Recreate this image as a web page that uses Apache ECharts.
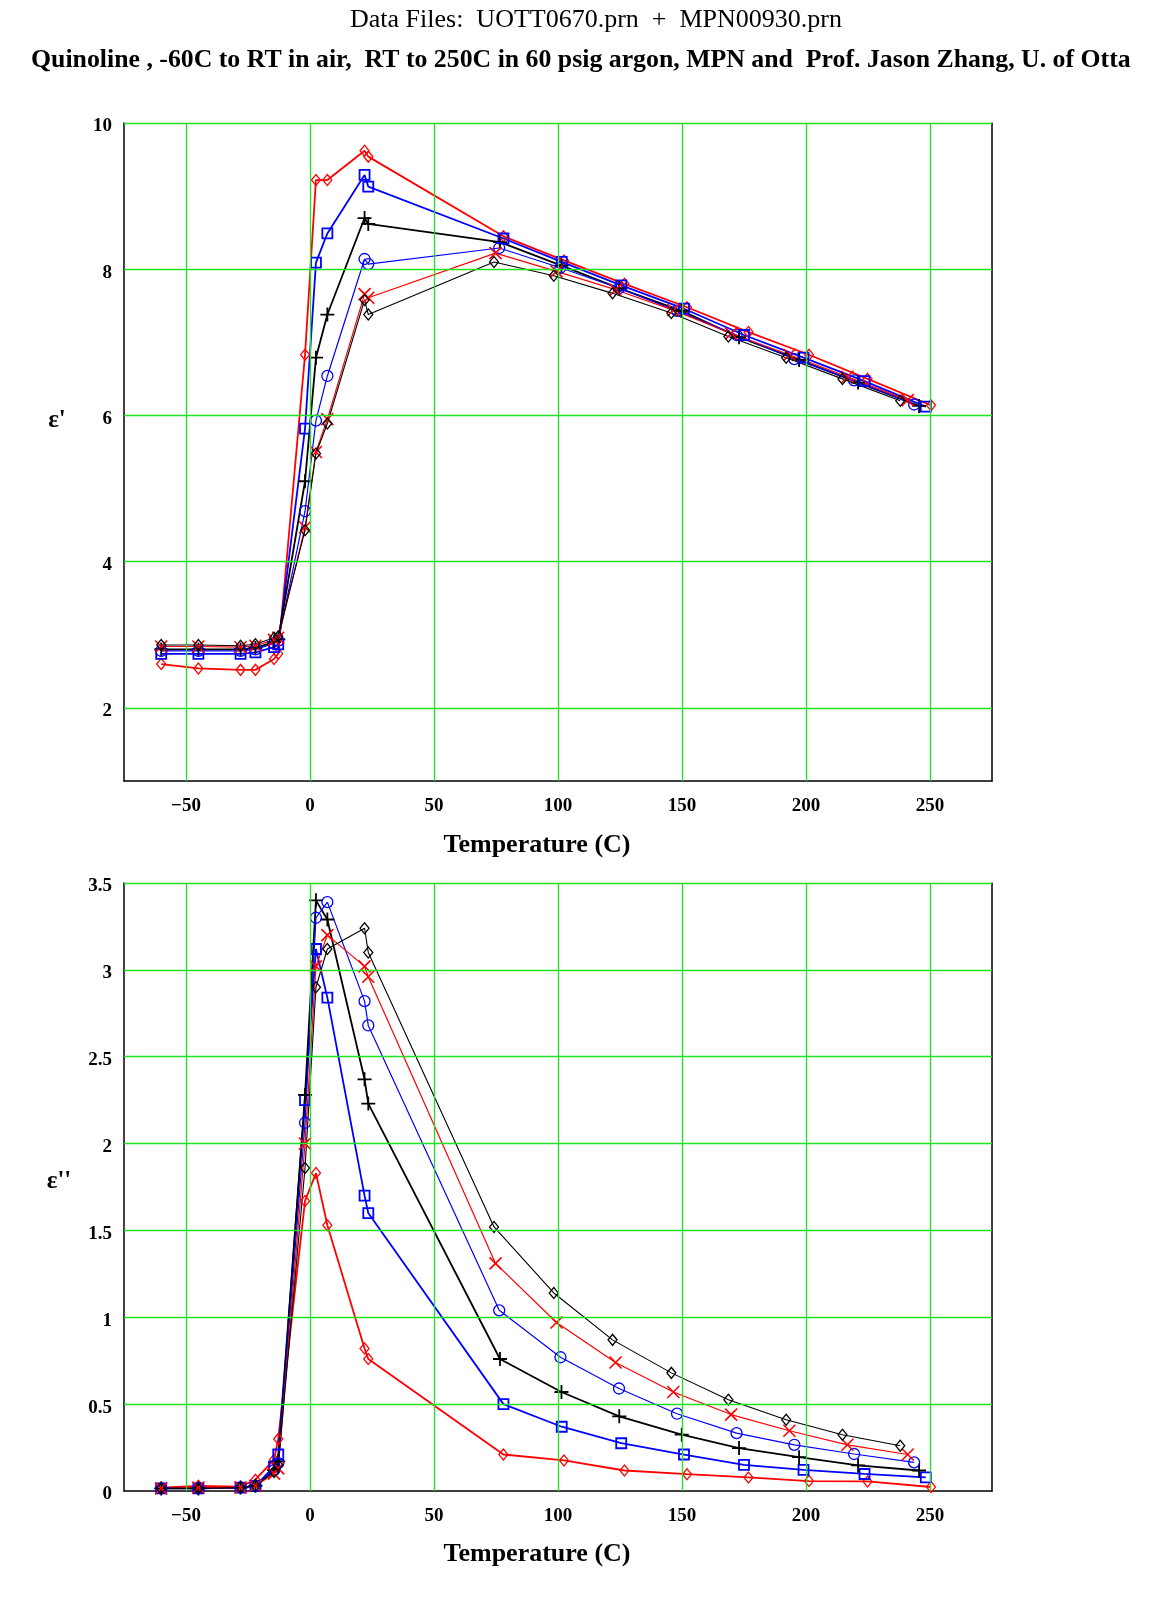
<!DOCTYPE html>
<html>
<head>
<meta charset="utf-8">
<script src="https://cdn.jsdelivr.net/npm/echarts@6/dist/echarts.min.js"></script>
<style>
html,body{margin:0;padding:0;background:#fff;}
#chart{width:1149px;height:1606px;}
</style>
</head>
<body>
<div id="chart"></div>
<script>
// ---- Data (temperature in C) ----
const tempRedDiamond   = [-60,-45,-28,-22,-14.5,-12.8,-2,2.4,7,22,23.5,78,102.4,126.8,152,176.8,201.2,224.8,250.4];
const tempBlueSquare   = [-60,-45,-28,-22,-14.5,-12.8,-2,2.4,7,22,23.5,78,101.5,125.5,150.8,175,199,223.6,248.3];
const tempBlackPlus    = [-60,-45,-28,-22,-14.5,-12.8,-2,2.4,7,22,23.5,76.6,101.4,124.7,149.9,173,197.2,221,245.6];
const tempBlueCircle   = [-60,-45,-28,-22,-14.5,-12.8,-2,2.4,7,22,23.5,76.3,101,124.6,148,172,195.3,219.4,243.6];
const tempRedX         = [-60,-45,-28,-22,-14.5,-12.8,-2,2.4,7,22,23.5,74.8,99.4,123.2,146.5,169.8,193.3,216.7,241];
const tempBlackDiamond = [-60,-45,-28,-22,-14.5,-12.8,-2,2.4,7,22,23.5,74.2,98.3,122,145.7,168.7,192,214.7,238];

// ε' (real permittivity)
const epsRedDiamond   = [2.60,2.54,2.52,2.52,2.67,2.74,6.83,9.22,9.22,9.62,9.54,8.45,8.12,7.80,7.48,7.14,6.83,6.50,6.14];
const epsBlueSquare   = [2.74,2.74,2.74,2.76,2.83,2.87,5.82,8.09,8.49,9.29,9.13,8.42,8.10,7.78,7.46,7.10,6.79,6.47,6.12];
const epsBlackPlus    = [2.80,2.80,2.80,2.82,2.90,2.94,5.10,6.79,7.38,8.70,8.62,8.37,8.05,7.74,7.43,7.07,6.76,6.45,6.13];
const epsBlueCircle   = [2.78,2.78,2.78,2.80,2.88,2.92,4.69,5.93,6.54,8.14,8.07,8.29,8.02,7.74,7.43,7.10,6.77,6.48,6.15];
const epsRedX         = [2.84,2.84,2.83,2.85,2.93,2.96,4.47,5.50,5.95,7.66,7.61,8.22,7.97,7.72,7.44,7.12,6.83,6.53,6.21];
const epsBlackDiamond = [2.86,2.86,2.85,2.87,2.96,2.98,4.43,5.48,5.89,7.58,7.38,8.10,7.91,7.67,7.40,7.08,6.79,6.50,6.20];

// ε'' (loss)
const lossRedDiamond   = [0.02,0.03,0.025,0.065,0.18,0.30,1.67,1.83,1.53,0.82,0.76,0.21,0.176,0.118,0.097,0.078,0.057,0.055,0.023];
const lossBlueSquare   = [0.015,0.015,0.02,0.03,0.14,0.21,2.25,3.12,2.84,1.70,1.60,0.50,0.37,0.275,0.21,0.15,0.122,0.098,0.078];
const lossBlackPlus    = [0.015,0.015,0.02,0.03,0.12,0.17,2.28,3.40,3.29,2.37,2.23,0.76,0.57,0.43,0.324,0.247,0.195,0.147,0.118];
const lossBlueCircle   = [0.015,0.015,0.02,0.03,0.12,0.16,2.12,3.30,3.39,2.82,2.68,1.04,0.77,0.59,0.445,0.333,0.266,0.213,0.165];
const lossRedX         = [0.015,0.02,0.02,0.03,0.10,0.13,2.00,3.02,3.20,3.02,2.96,1.31,0.97,0.74,0.57,0.44,0.347,0.266,0.21];
const lossBlackDiamond = [0.015,0.015,0.02,0.03,0.11,0.15,1.86,2.90,3.12,3.24,3.10,1.52,1.14,0.87,0.68,0.525,0.41,0.324,0.26];

// ticks / gridlines
const xGridTicks = [-50,0,50,100,150,200,250];
const yTopGridTicks = [2,4,6,8,10];
const yBotGridTicks = [0.5,1,1.5,2,2.5,3,3.5];

const titleLine1 = 'Data Files:  UOTT0670.prn  +  MPN00930.prn';
const titleLine2 = 'Quinoline , -60C to RT in air,  RT to 250C in 60 psig argon, MPN and  Prof. Jason Zhang, U. of Otta';
const xAxisTitle = 'Temperature (C)';
const yTopTitle = "\u03b5'";
const yBotTitle = "\u03b5''";

// ---- styles ----
const FONT = '"Liberation Serif", "Times New Roman", serif';
const GREEN = '#22e022';
const PLUS = 'path://M0,5L10,5M5,0L5,10';
const CROSS = 'path://M0,0L10,10M10,0L0,10';

const seriesDefs = [
  {name:'red diamond',   t:tempRedDiamond,   top:epsRedDiamond,   bot:lossRedDiamond,   color:'#ff0000', symbol:'diamond', size:[9,11], lw:1.8, bw:1.3},
  {name:'blue square',   t:tempBlueSquare,   top:epsBlueSquare,   bot:lossBlueSquare,   color:'#0000ff', symbol:'rect',    size:10,     lw:1.8, bw:1.8},
  {name:'black plus',    t:tempBlackPlus,    top:epsBlackPlus,    bot:lossBlackPlus,    color:'#000000', symbol:PLUS,      size:14,     lw:1.8, bw:1.8},
  {name:'blue circle',   t:tempBlueCircle,   top:epsBlueCircle,   bot:lossBlueCircle,   color:'#0000ff', symbol:'circle',  size:11,     lw:1.2, bw:1.3},
  {name:'red x',         t:tempRedX,         top:epsRedX,         bot:lossRedX,         color:'#ff0000', symbol:CROSS,     size:12,     lw:1.2, bw:1.6},
  {name:'black diamond', t:tempBlackDiamond, top:epsBlackDiamond, bot:lossBlackDiamond, color:'#000000', symbol:'diamond', size:[9,11], lw:1.1, bw:1.3}
];

function makeSeries(def, which, idx) {
  const ys = which === 'top' ? def.top : def.bot;
  return {
    type:'line', name:def.name, xAxisIndex:idx, yAxisIndex:idx*2,
    data: def.t.map((t,i)=>[t, ys[i]]),
    symbol:def.symbol, symbolSize:def.size, showAllSymbol:true,
    lineStyle:{color:def.color, width:def.lw},
    itemStyle:{color:'rgba(0,0,0,0)', borderColor:def.color, borderWidth:def.bw},
    emphasis:{disabled:true}, z:3, animation:false, silent:true
  };
}

function gridSeries(idx, yTicks) {
  const data = xGridTicks.map(v=>({xAxis:v})).concat(yTicks.map(v=>({yAxis:v})));
  return {
    type:'line', xAxisIndex:idx, yAxisIndex:idx*2, data:[], symbol:'none', z:1, silent:true,
    markLine:{silent:true, symbol:['none','none'], label:{show:false},
      lineStyle:{color:GREEN, width:1.3, type:'solid'}, data:data, animation:false}
  };
}

const xLabelFmt = v => (v % 50 === 0) ? (v < 0 ? '\u2212' + Math.abs(v) : String(v)) : '';
const labelStyle = {fontFamily:FONT, fontWeight:'bold', fontSize:19, color:'#000'};
const yRich = {a:{fontFamily:FONT, fontWeight:'bold', fontSize:19, color:'#000', padding:[7,0,0,0]}};

function xAxisDef(idx) {
  return {
    type:'value', gridIndex:idx, min:-75, max:275, interval:25,
    axisLine:{show:true, onZero:false, lineStyle:{color:'#000', width:1.5}},
    axisTick:{show:false}, splitLine:{show:false},
    axisLabel:Object.assign({formatter:xLabelFmt, margin:16, showMaxLabel:false}, labelStyle)
  };
}

function yBorder(idx, min, max) {
  return {type:'value', gridIndex:idx, min:min, max:max, position:'right',
    axisLine:{show:true, onZero:false, lineStyle:{color:'#000', width:1.5}},
    axisTick:{show:false}, splitLine:{show:false}, axisLabel:{show:false}};
}

const option = {
  backgroundColor:'#fff',
  animation:false,
  grid:[
    {left:124, right:157, top:123, height:658},
    {left:124, right:157, top:883, height:608}
  ],
  xAxis:[xAxisDef(0), xAxisDef(1)],
  yAxis:[
    {type:'value', gridIndex:0, min:1, max:10, interval:1,
     axisLine:{show:true, onZero:false, lineStyle:{color:'#000', width:1.5}},
     axisTick:{show:false}, splitLine:{show:false},
     axisLabel:{formatter:v=>(v%2===0?'{a|' + v + '}':''), margin:12, rich:yRich}},
    yBorder(0, 1, 10),
    {type:'value', gridIndex:1, min:0, max:3.5, interval:0.5,
     axisLine:{show:true, onZero:false, lineStyle:{color:'#000', width:1.5}},
     axisTick:{show:false}, splitLine:{show:false},
     axisLabel:{formatter:v=>'{a|' + v + '}', margin:12, rich:yRich}},
    yBorder(1, 0, 3.5)
  ],
  graphic:[
    {type:'text', x:596, y:20, style:{text:titleLine1, font:'26px ' + FONT, fill:'#000', textAlign:'center', textVerticalAlign:'middle'}},
    {type:'text', x:31, y:60, style:{text:titleLine2, font:'bold 25.8px ' + FONT, fill:'#000', textAlign:'left', textVerticalAlign:'middle'}},
    {type:'text', x:537, y:845, style:{text:xAxisTitle, font:'bold 26px ' + FONT, fill:'#000', textAlign:'center', textVerticalAlign:'middle'}},
    {type:'text', x:537, y:1554, style:{text:xAxisTitle, font:'bold 26px ' + FONT, fill:'#000', textAlign:'center', textVerticalAlign:'middle'}},
    {type:'text', x:57, y:421, style:{text:yTopTitle, font:'bold 25px ' + FONT, fill:'#000', textAlign:'center', textVerticalAlign:'middle'}},
    {type:'text', x:59, y:1182, style:{text:yBotTitle, font:'bold 25px ' + FONT, fill:'#000', textAlign:'center', textVerticalAlign:'middle'}}
  ],
  series:[gridSeries(0, yTopGridTicks), gridSeries(1, yBotGridTicks)]
    .concat(seriesDefs.map(d=>makeSeries(d,'top',0)))
    .concat(seriesDefs.map(d=>makeSeries(d,'bot',1)))
};

const chart = echarts.init(document.getElementById('chart'), null, {renderer:'canvas'});
chart.setOption(option);
</script>
</body>
</html>
